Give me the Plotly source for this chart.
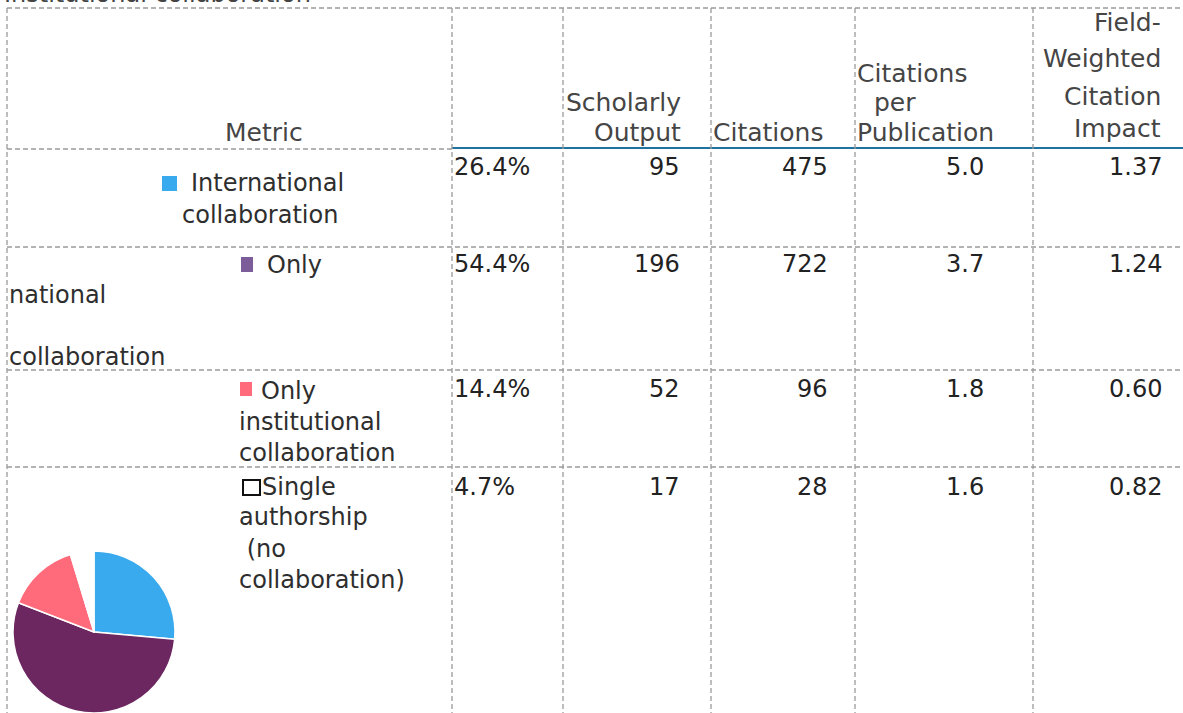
import plotly.graph_objects as go

# ---------------- data ----------------
categories = ["International collaboration", "Only national collaboration",
              "Only institutional collaboration", "Single authorship (no collaboration)"]
share_pct = [26.4, 54.4, 14.4, 4.7]
scholarly_output = [95, 196, 52, 17]
citations = [475, 722, 96, 28]
citations_per_pub = [5.0, 3.7, 1.8, 1.6]
fwci = [1.37, 1.24, 0.60, 0.82]
column_headers = ["Metric", "", "Scholarly<br>Output", "Citations",
                  "Citations<br>per<br>Publication", "Field-<br>Weighted<br>Citation<br>Impact"]
title_text = "Institutional collaboration"

# ---------------- styling / layout ----------------
W, H = 1183, 713
pie_colors = ["#3AAAEE", "#6C2660", "#FF6B7B", "#FFFFFF"]
swatch_colors = ["#3AAAEE", "#7D5C9A", "#FF6B7B", "#FFFFFF"]
FONT = "DejaVu Sans"
GRID = "#9a9a9a"


def X(px):
    return px / W


def Y(py):
    return 1 - py / H


fig = go.Figure()

pr = 81
pcx, pcy = 94, H - pr
fig.add_trace(go.Pie(
    labels=categories, values=share_pct, sort=False, direction="clockwise",
    rotation=0, marker=dict(colors=pie_colors, line=dict(color="white", width=1.5)),
    textinfo="none", hoverinfo="label+percent", showlegend=False,
    domain=dict(x=[X(pcx - pr), X(pcx + pr)], y=[0, Y(pcy - pr)]),
))

shapes = []


def hline(y, x0, x1, color=GRID, dash="5px,3px", width=1.3):
    shapes.append(dict(type="line", xref="paper", yref="paper", x0=X(x0), x1=X(x1),
                       y0=Y(y), y1=Y(y), line=dict(color=color, width=width, dash=dash)))


def vline(x, y0, y1):
    shapes.append(dict(type="line", xref="paper", yref="paper", x0=X(x), x1=X(x),
                       y0=Y(y0), y1=Y(y1), line=dict(color=GRID, width=1.3, dash="5px,3px")))


hline(8, 7, W)
hline(149, 7, 452)
hline(148, 452, W, color="#1F72A0", dash="solid", width=2)
for yy in [247, 370, 467]:
    hline(yy, 7, W)
for xx in [7, 452, 563, 711, 855, 1033]:
    vline(xx, 8, H)

# legend swatches
sw = [(162, 176, 15, 15), (241, 257, 12, 15), (240, 382, 12, 14), (243, 480, 17, 15)]
for (sx, sy, sw_w, sw_h), c in zip(sw, swatch_colors):
    shapes.append(dict(type="rect", xref="paper", yref="paper",
                       x0=X(sx), x1=X(sx + sw_w), y0=Y(sy), y1=Y(sy + sw_h),
                       fillcolor=c,
                       line=dict(color="#111111" if c == "#FFFFFF" else c,
                                 width=2 if c == "#FFFFFF" else 0)))

ann = []


def text(t, x, y, anchor="left", size=23, color="#333333"):
    ann.append(dict(text=t, x=X(x), y=Y(y), xref="paper", yref="paper", showarrow=False,
                    xanchor=anchor, yanchor="middle", align=anchor,
                    font=dict(family=FONT, size=size, color=color)))


# title, cut off by the top edge as in the source image
text(title_text, 2, -6, size=24, color="#444444")

# header
hdr_color = "#454545"
HS = 25
text(column_headers[0], 223, 132, size=HS, color=hdr_color)
sc = column_headers[2].split("<br>")
text(sc[0], 683, 103, "right", size=HS, color=hdr_color)
text(sc[1], 683, 132, "right", size=HS, color=hdr_color)
text(column_headers[3], 711, 132, size=HS, color=hdr_color)
cp = column_headers[4].split("<br>")
text(cp[0], 855, 73, size=HS, color=hdr_color)
text(cp[1], 895, 103, "center", size=HS, color=hdr_color)
text(cp[2], 855, 132, size=HS, color=hdr_color)
fw = column_headers[5].split("<br>")
for line, yy in zip(fw, [23, 59, 96, 128]):
    text(line, 1163, yy, "right", size=HS, color=hdr_color)

# row labels (split of category names across lines)
lab_color = "#2e2e2e"
row_label_lines = [
    [("International", 189, 183), ("collaboration", 180, 215)],
    [("Only", 265, 265), ("national", 7, 295), ("collaboration", 7, 357)],
    [("Only", 259, 391), ("institutional", 237, 422), ("collaboration", 237, 453)],
    [("Single", 260, 487), ("authorship", 237, 517), (" (no", 237, 549), ("collaboration)", 237, 580)],
]
for lines in row_label_lines:
    for t, xx, yy in lines:
        text(t, xx, yy, size=24, color=lab_color)

# values
row_y = [167, 264, 389, 487]
num_color = "#222222"
NS = 24
for i, yy in enumerate(row_y):
    text(f"{share_pct[i]:.1f}%", 452, yy, "left", size=NS, color=num_color)
    text(f"{scholarly_output[i]}", 682, yy, "right", size=NS, color=num_color)
    text(f"{citations[i]}", 830, yy, "right", size=NS, color=num_color)
    text(f"{citations_per_pub[i]:.1f}", 986, yy, "right", size=NS, color=num_color)
    text(f"{fwci[i]:.2f}", 1164, yy, "right", size=NS, color=num_color)

fig.update_layout(
    width=W, height=H, margin=dict(l=0, r=0, t=0, b=0),
    paper_bgcolor="white", plot_bgcolor="white",
    shapes=shapes, annotations=ann,
)

fig.write_html("out.html", config={"displayModeBar": False},
               post_script="document.body.style.margin='0';")
